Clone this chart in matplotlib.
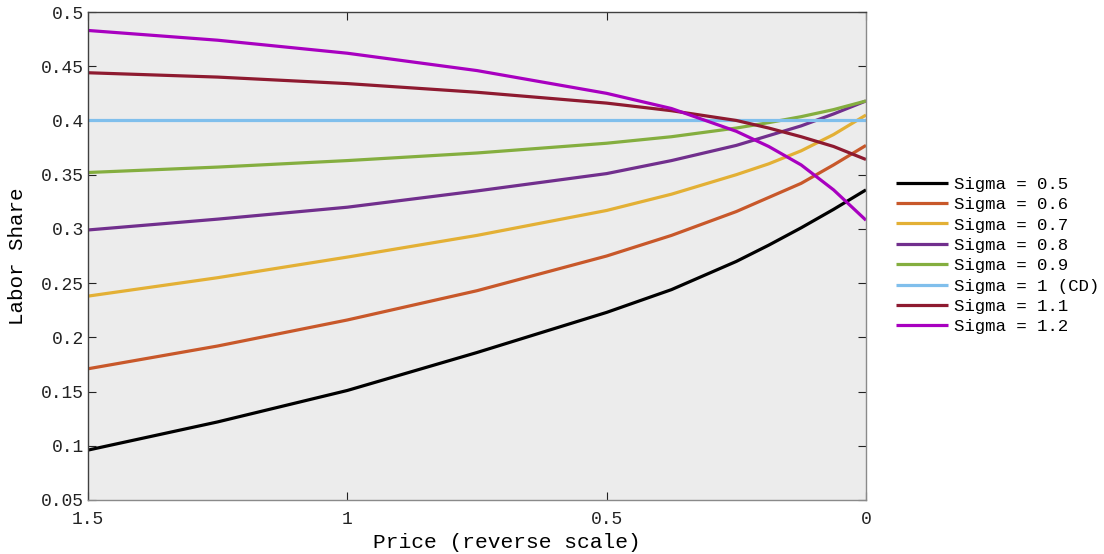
import matplotlib
matplotlib.use('Agg')
import matplotlib.pyplot as plt
from matplotlib.ticker import FuncFormatter

# values
price = [1.5, 1.25, 1.0, 0.75, 0.5, 0.375, 0.25, 0.1875, 0.125, 0.0625, 0.0]

share_05 = [0.096, 0.122, 0.151, 0.186, 0.223, 0.244, 0.270, 0.285, 0.301, 0.318, 0.336]
share_06 = [0.171, 0.192, 0.216, 0.243, 0.275, 0.294, 0.316, 0.329, 0.342, 0.359, 0.377]
share_07 = [0.238, 0.255, 0.274, 0.294, 0.317, 0.332, 0.350, 0.360, 0.372, 0.387, 0.405]
share_08 = [0.299, 0.309, 0.320, 0.335, 0.351, 0.363, 0.377, 0.386, 0.395, 0.406, 0.418]
share_09 = [0.352, 0.357, 0.363, 0.370, 0.379, 0.385, 0.393, 0.398, 0.4035, 0.410, 0.418]
share_10 = [0.400] * len(price)
share_11 = [0.444, 0.440, 0.434, 0.426, 0.416, 0.409, 0.400, 0.393, 0.385, 0.376, 0.364]
share_12 = [0.483, 0.474, 0.462, 0.446, 0.425, 0.411, 0.390, 0.376, 0.359, 0.336, 0.308]

labels = ['Sigma = 0.5', 'Sigma = 0.6', 'Sigma = 0.7', 'Sigma = 0.8',
          'Sigma = 0.9', 'Sigma = 1 (CD)', 'Sigma = 1.1', 'Sigma = 1.2']
series = [share_05, share_06, share_07, share_08, share_09, share_10, share_11, share_12]
colors = ['#000000', '#c8582a', '#e3b035', '#712f8d', '#84ae3f', '#80bfec', '#8e1a30', '#a800c0']

x_ticks = [1.5, 1.0, 0.5, 0.0]
y_ticks = [0.05, 0.1, 0.15, 0.2, 0.25, 0.3, 0.35, 0.4, 0.45, 0.5]

# Courier-like font in the reference
plt.rcParams['font.family'] = ['Liberation Mono', 'DejaVu Sans Mono']

fig = plt.figure(figsize=(11.04, 5.54), dpi=100)
ax = fig.add_axes([0.0797, 0.0975, 0.7047, 0.8808])
ax.set_facecolor('#ececec')

for ys, col, lab in zip(series, colors, labels):
    ax.plot(price, ys, color=col, linewidth=2.3, label=lab, solid_capstyle='butt')

ax.set_xlim(1.5, 0.0)
ax.set_ylim(0.05, 0.5)
ax.set_xticks(x_ticks)
ax.set_yticks(y_ticks)
fmt = FuncFormatter(lambda v, p: '%g' % round(v, 3))
ax.xaxis.set_major_formatter(fmt)
ax.yaxis.set_major_formatter(fmt)
ax.tick_params(direction='in', length=6, width=0.8, labelsize=13, colors='#222222',
               top=True, right=True)
ax.tick_params(axis='x', pad=8)
ax.tick_params(axis='y', pad=3)

for side in ['left', 'top']:
    ax.spines[side].set_color('#404040')
for side in ['right', 'bottom']:
    ax.spines[side].set_color('#8a8a8a')
for sp in ax.spines.values():
    sp.set_linewidth(1.0)

ax.set_xlabel('Price (reverse scale)', fontsize=15.3, labelpad=3)
ax.xaxis.set_label_coords(0.5386, -0.068)
ax.set_ylabel('Labor Share', fontsize=15, labelpad=10)

ax.legend(loc='center left', bbox_to_anchor=(1.03, 0.501), frameon=False,
          fontsize=12.5, handlelength=3.0, handletextpad=0.35, labelspacing=0.3,
          borderaxespad=0.0)

fig.savefig('out.png', dpi=100)
